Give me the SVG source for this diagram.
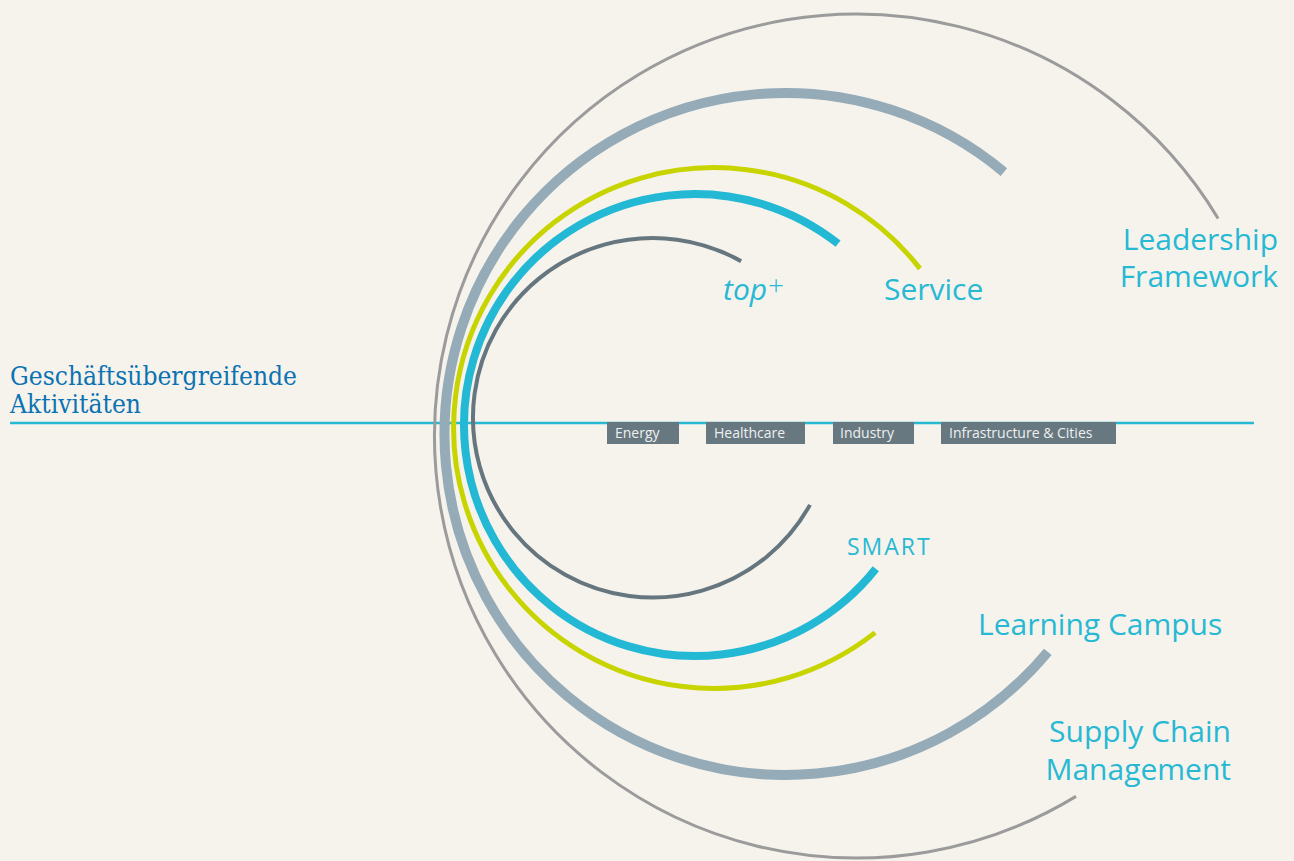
<svg xmlns="http://www.w3.org/2000/svg" width="1294" height="861" viewBox="0 0 1294 861">
<style>
.arc{fill:none;stroke-linecap:butt}
.lbl{font-family:"Open Sans","Noto Sans",sans-serif;fill:#27b9d4;font-size:30px}
.box{fill:#687880}
.boxt{font-family:"Open Sans","Noto Sans",sans-serif;fill:#eef0f0;font-size:14px}
.left{font-family:"DejaVu Serif","Liberation Serif",serif;fill:#0b72b2;font-size:26px}
</style>
<rect width="1294" height="861" fill="#f6f3ed"/>
<g id="connectors">
<line x1="10" y1="423" x2="1254" y2="423" stroke="#27b9d4" stroke-width="2.5"/>
<path id="arc-outer" class="arc" d="M1218.1,218.4 A422,422 0 1 0 1076.0,796.4" stroke="#9b9b9b" stroke-width="3"/>
<path id="arc-lead" class="arc" d="M1003.9,172.1 A341,341 0 1 0 1047.8,651.9" stroke="#95abb8" stroke-width="10"/>
<path id="arc-service" class="arc" d="M919.9,268.6 A260.4,260.4 0 1 0 875.1,632.6" stroke="#c8d400" stroke-width="5"/>
<path id="arc-smart" class="arc" d="M838.1,243.7 A231,231 0 1 0 875.8,568.8" stroke="#23b9d5" stroke-width="8"/>
<path id="arc-top" class="arc" d="M741.1,261.2 A179.75,179.75 0 1 0 809.95,504.85" stroke="#66767f" stroke-width="4"/>
</g>
<g id="node-left">
<text class="left" x="10" y="385" textLength="287" lengthAdjust="spacingAndGlyphs">Geschäftsübergreifende</text>
<text class="left" x="10" y="413" textLength="131" lengthAdjust="spacingAndGlyphs">Aktivitäten</text>
</g>
<g id="node-energy"><rect class="box" x="607" y="422" width="72" height="22"/><text class="boxt" x="615" y="438">Energy</text></g>
<g id="node-healthcare"><rect class="box" x="706" y="422" width="99" height="22"/><text class="boxt" x="714" y="438">Healthcare</text></g>
<g id="node-industry"><rect class="box" x="833" y="422" width="81" height="22"/><text class="boxt" x="840" y="438">Industry</text></g>
<g id="node-infra"><rect class="box" x="941" y="422" width="175" height="22"/><text class="boxt" x="949" y="438">Infrastructure &amp; Cities</text></g>
<g id="node-top"><text class="lbl" x="723" y="300" font-style="italic">top</text><text class="lbl" x="768" y="295" style="font-size:28px;font-weight:300">+</text></g>
<g id="node-service"><text class="lbl" x="884" y="300">Service</text></g>
<g id="node-leadership"><text class="lbl" x="1278" y="250" text-anchor="end">Leadership</text><text class="lbl" x="1278" y="287" text-anchor="end">Framework</text></g>
<g id="node-smart"><text class="lbl" x="847" y="555" letter-spacing="2" style="font-size:23px">SMART</text></g>
<g id="node-learning"><text class="lbl" x="978" y="635">Learning Campus</text></g>
<g id="node-supply"><text class="lbl" x="1231" y="742" text-anchor="end">Supply Chain</text><text class="lbl" x="1231" y="780" text-anchor="end">Management</text></g>
</svg>
